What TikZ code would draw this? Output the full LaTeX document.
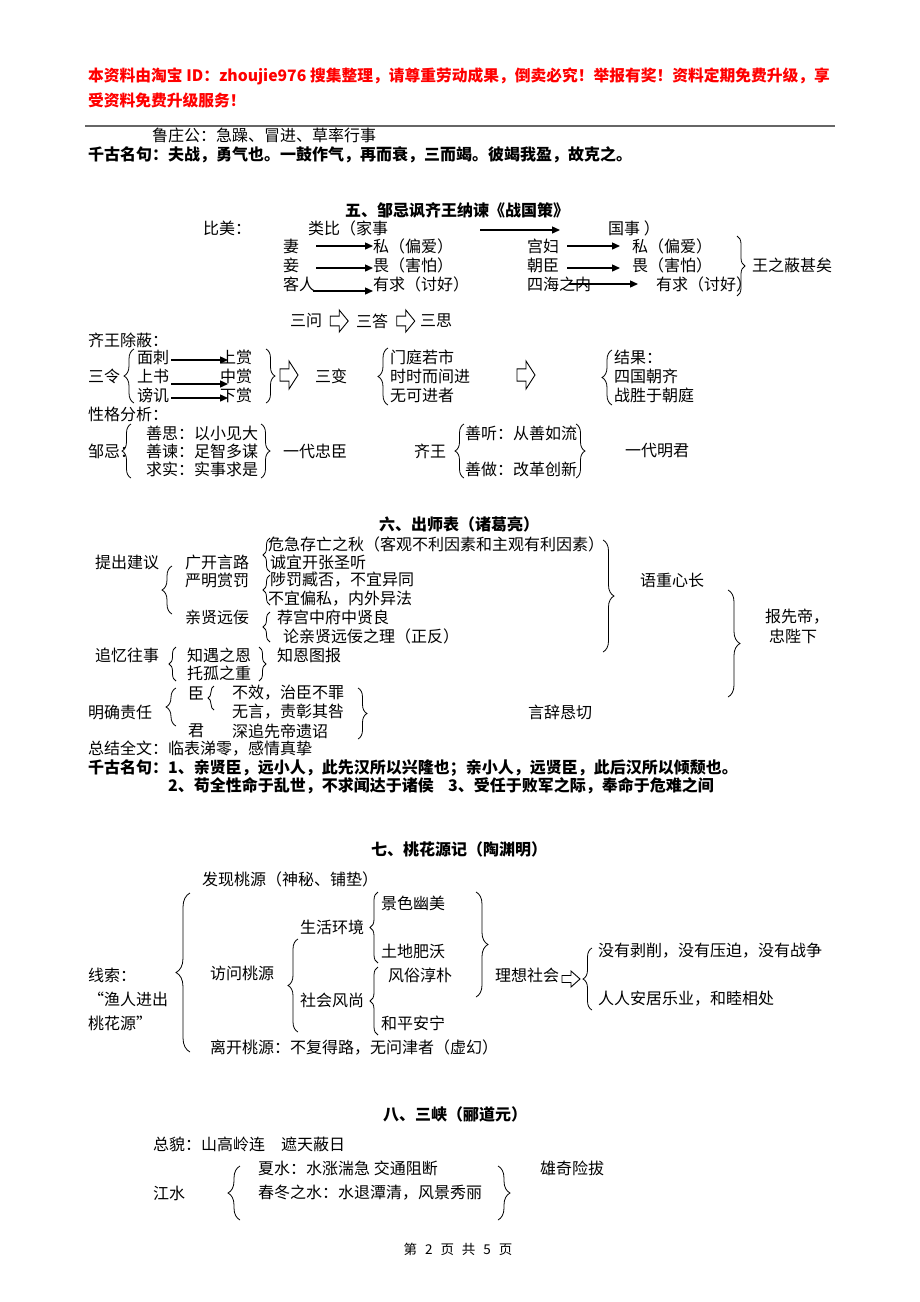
\documentclass[tikz,border=0pt]{standalone}
\usepackage{fontspec}
\setmainfont{Noto Sans CJK SC}
\usetikzlibrary{arrows.meta,decorations.pathreplacing,calc}
\newcommand\fsz{\fontsize{16}{19}\selectfont}
\newcommand\hsz{\fontsize{15.75}{19}\selectfont}
\tikzset{
 t/.style={inner sep=0pt,anchor=west,font=\fsz},
 b/.style={t,font=\fsz\bfseries},
 hb/.style={t,font=\hsz\bfseries,text=red},
 tc/.style={b,anchor=center},
 arr/.style={-{Triangle[length=8pt,width=7pt]},line width=1.4pt},
 brc/.style={decorate,decoration={brace,amplitude=#1},line width=0.8pt},
 brc/.default=8,
 pics/harr/.style 2 args={code={\draw[line width=0.9pt,fill=white,line join=miter] (-#1/2,-0.22*#2) -- (0,-0.22*#2) -- (0,-#2/2) -- (#1/2,0) -- (0,#2/2) -- (0,0.22*#2) -- (-#1/2,0.22*#2) -- cycle;}}
}
\begin{document}
\begin{tikzpicture}[x=1pt,y=-1pt]
\fill[white] (0,0) rectangle (920,1302);
\useasboundingbox (0,0) rectangle (920,1302);

% header
\node[hb] (h1) at (88,76) {本资料由淘宝 ID：zhoujie976 搜集整理，请尊重劳动成果，倒卖必究！举报有奖！资料定期免费升级，享};
\node[hb] (h2) at (88,100) {受资料免费升级服务！};
\draw[line width=2.4pt,black!60] (85,126) -- (835,126);
\node[t] (lu) at (152,135) {鲁庄公：急躁、冒进、草率行事};
\node[b] (qg1) at (88,155) {千古名句：夫战，勇气也。一鼓作气，再而衰，三而竭。彼竭我盈，故克之。};

% section 5
\node[tc] (t5) at (457,210) {五、邹忌讽齐王纳谏《战国策》};
\node[t] (bm) at (203,228) {比美：};
\node[t] (lb) at (308,228) {类比（家事};
\node[t] (gs) at (608,228) {国事 ）};
\draw[arr] ([xshift=92,yshift=-2]lb.east) -- ([xshift=-48,yshift=-2]gs.west);

\node[t] (qi) at (283,246) {妻};
\node[t] (s1) at (373,246) {私（偏爱）};
\draw[arr] ([xshift=17]qi.east) -- (s1.west);
\node[t] (qie) at (283,265) {妾};
\node[t] (w1) at (373,265) {畏（害怕）};
\draw[arr] ([xshift=17,yshift=-3]qie.east) -- ([yshift=-3]w1.west);
\node[t] (kr) at (283,284) {客人};
\node[t] (y1) at (373,284) {有求（讨好）};
\draw[arr] ([xshift=-2,yshift=-7]kr.east) -- ([yshift=-7]y1.west);

\node[t] (gf) at (527,246) {宫妇};
\node[t] (s2) at (632,246) {私（偏爱）};
\draw[arr] ([xshift=8]gf.east) -- ([xshift=-12]s2.west);
\node[t] (cc) at (527,265) {朝臣};
\node[t] (w2) at (632,265) {畏（害怕）};
\draw[arr] ([xshift=8,yshift=-3]cc.east) -- ([xshift=-12,yshift=-3]w2.west);
\node[t] (sh) at (527,284) {四海之内};
\node[t] (y2) at (656,284) {有求（讨好）};
\draw[arr] ([xshift=-22]sh.east) -- ([xshift=-18]y2.west);
\draw[brc=8] (737,236) -- (737,296);
\node[t] (wz) at (752,265) {王之蔽甚矣};

\node[t] (sw) at (290,321) {三问};
\node[t] (sd) at (356,321) {三答};
\node[t] (ssi) at (420,321) {三思};
\pic at ($(sw.east)!0.5!(sd.west)$) {harr={18}{22}};
\pic at ($(sd.east)!0.55!(ssi.west)$) {harr={18}{22}};

\node[t] (qwcb) at (88,340) {齐王除蔽：};
\node[t] (sl) at (88,376) {三令};
\draw[brc=10] (134,403) -- (134,349);
\node[t] (mc) at (137,357) {面刺};
\node[t] (ss1) at (220,357) {上赏};
\draw[arr] ([xshift=2,yshift=-3]mc.east) -- ([xshift=8,yshift=-3]ss1.west);
\node[t] (shu) at (137,376) {上书};
\node[t] (zs) at (220,376) {中赏};
\draw[arr] ([xshift=2,yshift=-8]shu.east) -- ([xshift=8,yshift=-8]zs.west);
\node[t] (bj) at (137,395) {谤讥};
\node[t] (xs) at (220,395) {下赏};
\draw[arr] ([xshift=2,yshift=-3]bj.east) -- ([xshift=8,yshift=-3]xs.west);
\draw[brc=9] (266,349) -- (266,403);
\pic at (289,375) {harr={18}{28}};
\node[t] (sb) at (315,376) {三变};
\draw[brc=10] (388,405) -- (388,348);
\node[t] (mt) at (390,357) {门庭若市};
\node[t] (ssj) at (390,376) {时时而间进};
\node[t] (wk) at (390,395) {无可进者};
\pic at (526,375) {harr={18}{28}};
\draw[brc=10] (612,405) -- (612,350);
\node[t] (jg) at (614,357) {结果：};
\node[t] (sg) at (614,376) {四国朝齐};
\node[t] (zsy) at (614,395) {战胜于朝庭};

\node[t] (xg) at (88,414) {性格分析：};
\node[t] (zj) at (88,451) {邹忌：};
\draw[brc=9] (131,478) -- (131,424);
\node[t] (a1) at (146,433) {善思：以小见大};
\node[t] (a2) at (146,451) {善谏：足智多谋};
\node[t] (a3) at (146,469) {求实：实事求是};
\draw[brc=9] (261,424) -- (261,478);
\node[t] (ydzc) at (283,451) {一代忠臣};
\node[t] (qw) at (414,451) {齐王};
\draw[brc=9] (464,478) -- (464,424);
\node[t] (b1) at (465,433) {善听：从善如流};
\node[t] (b2) at (465,469) {善做：改革创新};
\draw[brc=9] (576,424) -- (576,478);
\node[t] (ydmj) at (625,451) {一代明君};

% section 6
\node[tc] (t6) at (459,524) {六、出师表（诸葛亮）};
\node[t] (tc) at (95,562) {提出建议};
\draw[brc=10] (172,614) -- (172,566);
\node[t] (gk) at (185,562) {广开言路};
\draw[brc=7] (270,572) -- (270,538);
\node[t] (wj) at (268,544) {危急存亡之秋（客观不利因素和主观有利因素）};
\node[t] (cy) at (270,562) {诚宜开张圣听};
\node[t] (ym) at (185,580) {严明赏罚};
\draw[brc=7] (270,605) -- (270,575);
\node[t] (zf) at (270,580) {陟罚臧否，不宜异同};
\node[t] (bp) at (268,599) {不宜偏私，内外异法};
\node[t] (qx) at (185,617) {亲贤远佞};
\draw[brc=7] (270,642) -- (270,612);
\node[t] (jgz) at (277,617) {荐宫中府中贤良};
\node[t] (lq) at (283,636) {论亲贤远佞之理（正反）};
\draw[brc=11] (603,540) -- (603,652);
\node[t] (yzxc) at (640,580) {语重心长};
\draw[brc=12] (728,590) -- (728,697);
\node[t] (bxd) at (765,617) {报先帝，};
\node[t] (zbx) at (769,636) {忠陛下};

\node[t] (zy) at (95,655) {追忆往事};
\draw[brc=7] (176,681) -- (176,647);
\node[t] (zye) at (187,655) {知遇之恩};
\node[t] (tg) at (187,673) {托孤之重};
\draw[brc=7] (259,647) -- (259,681);
\node[t] (zetb) at (277,655) {知恩图报};

\node[t] (mq) at (88,712) {明确责任};
\draw[brc=10] (176,726) -- (176,688);
\node[t] (chen) at (188,693) {臣};
\draw[brc=6] (214,710) -- (214,686);
\node[t] (bxz) at (232,693) {不效，治臣不罪};
\node[t] (wy) at (232,712) {无言，责彰其咎};
\node[t] (jun) at (188,731) {君};
\node[t] (szx) at (232,731) {深追先帝遗诏};
\draw[brc=9] (358,688) -- (358,739);
\node[t] (yc) at (528,712) {言辞恳切};

\node[t] (zjqw) at (88,749) {总结全文：临表涕零，感情真挚};
\node[b] (qg2) at (88,768) {千古名句：1、亲贤臣，远小人，此先汉所以兴隆也；亲小人，远贤臣，此后汉所以倾颓也。};
\node[b] (qg3a) at (168,786) {2、苟全性命于乱世，不求闻达于诸侯};
\node[b] (qg3b) at (448,786) {3、受任于败军之际，奉命于危难之间};

% section 7
\node[tc] (t7) at (459,849) {七、桃花源记（陶渊明）};
\node[t] (fx) at (202,879) {发现桃源（神秘、铺垫）};
\draw[brc=14] (190,1052) -- (190,893);
\node[t] (fw) at (210,973) {访问桃源};
\draw[brc=10] (298,1032) -- (298,939);
\node[t] (shhj) at (300,927) {生活环境};
\draw[brc=8] (378,963) -- (378,892);
\node[t] (jsym) at (381,903) {景色幽美};
\node[t] (tdfw) at (381,951) {土地肥沃};
\node[t] (shfs) at (300,1000) {社会风尚};
\draw[brc=8] (378,1035) -- (378,967);
\node[t] (fscp) at (388,975) {风俗淳朴};
\node[t] (hpan) at (381,1023) {和平安宁};
\draw[brc=12] (476,892) -- (476,997);
\node[t] (lxsh) at (495,975) {理想社会};
\pic at (571,979) {harr={18}{16}};
\draw[brc=9] (592,1010) -- (592,948);
\node[t] (mybx) at (598,951) {没有剥削，没有压迫，没有战争};
\node[t] (rraj) at (598,999) {人人安居乐业，和睦相处};
\node[t] (xsu) at (88,975) {线索：};
\node[t] (yrjc) at (88,999) {“渔人进出};
\node[t] (thy) at (88,1023) {桃花源”};
\node[t] (lkty) at (210,1047) {离开桃源：不复得路，无问津者（虚幻）};

% section 8
\node[tc] (t8) at (455,1114) {八、三峡（郦道元）};
\node[t] (zmao) at (153,1144) {总貌：山高岭连　遮天蔽日};
\node[t] (xsh) at (258,1168) {夏水：水涨湍急 交通阻断};
\node[t] (xqxb) at (540,1168) {雄奇险拔};
\node[t] (jsh) at (153,1193) {江水};
\draw[brc=12] (240,1220) -- (240,1166);
\node[t] (cdzs) at (258,1193) {春冬之水：水退潭清，风景秀丽};
\draw[brc=12] (498,1166) -- (498,1220);
\node[anchor=center,inner sep=0pt,font=\fontsize{13.5}{16}\selectfont] (pg) at (458,1249) {第\hspace{8pt}2\hspace{8pt}页\hspace{8pt}共\hspace{8pt}5\hspace{8pt}页};
\end{tikzpicture}
\end{document}
